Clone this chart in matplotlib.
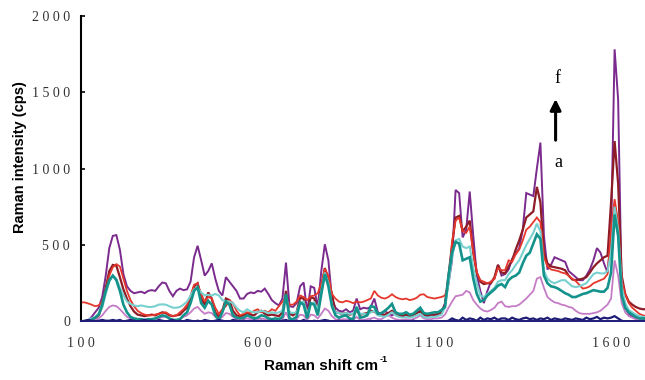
import matplotlib
matplotlib.use("Agg")
import matplotlib.pyplot as plt
import numpy as np

# Raman shift grid (cm-1), 10 cm-1 steps
shift = np.arange(100, 1701, 10)

# spectra (cps), order a -> f
spec_navy = [0, 5, 10, 5, 0, 5, 10, 5, 5, 10,
             5, 10, 0, 5, 10, 5, 0, 5, 10, 5,
             5, 0, 10, 5, 0, 5, 10, 0, 5, 0,
             10, 5, 0, 5, 0, 10, 5, 0, 5, 10,
             5, 0, 0, 10, 5, 0, 5, 0, 0, 5,
             0, 5, 0, 0, 5, 0, 0, 5, 10, 0,
             0, 5, 0, 10, 0, 0, 5, 0, 5, 10,
             5, 0, 0, 5, 0, 0, 5, 0, 0, 0,
             0, 0, 5, 0, 0, 0, 0, 5, 0, 0,
             0, 0, 0, 0, 5, 0, 0, 0, 0, 0,
             0, 0, 0, 0, 5, 20, 10, 5, 25, 10,
             20, 15, 5, 25, 10, 20, 15, 25, 10, 20,
             20, 10, 25, 15, 10, 20, 25, 15, 20, 10,
             20, 15, 25, 10, 20, 15, 10, 20, 15, 10,
             20, 15, 10, 25, 15, 20, 30, 15, 25, 20,
             25, 35, 20, 5, 0, 0, 0, 0, 0, 0,
             0]

spec_pink = [0, 0, 0, 5, 10, 20, 40, 70, 95, 105,
             100, 80, 55, 30, 20, 15, 10, 10, 10, 10,
             10, 15, 20, 30, 30, 20, 10, 10, 15, 30,
             40, 60, 85, 95, 70, 50, 60, 55, 30, 15,
             30, 55, 50, 30, 15, 10, 15, 20, 15, 10,
             15, 20, 15, 10, 10, 10, 10, 15, 60, 10,
             10, 15, 45, 40, 10, 45, 40, 20, 50, 85,
             70, 35, 15, 10, 15, 15, 10, 10, 30, 10,
             10, 15, 20, 25, 15, 15, 30, 40, 25, 15,
             10, 10, 15, 10, 15, 25, 40, 20, 15, 15,
             20, 20, 25, 45, 90, 130, 165, 170, 175, 200,
             190, 140, 110, 85, 70, 65, 75, 90, 120, 130,
             100, 95, 100, 100, 110, 130, 150, 175, 200, 280,
             290, 220, 160, 140, 125, 120, 110, 105, 95, 90,
             70, 55, 50, 50, 50, 55, 60, 70, 90, 110,
             150, 400, 300, 120, 60, 35, 25, 15, 10, 8,
             5]

spec_red = [125, 125, 118, 110, 100, 105, 130, 200, 300, 355,
            375, 360, 280, 200, 140, 100, 70, 55, 45, 40,
            40, 45, 50, 55, 60, 45, 35, 40, 60, 80,
            110, 170, 240, 250, 180, 130, 160, 150, 90, 50,
            80, 100, 140, 120, 70, 40, 50, 60, 55, 70,
            80, 60, 70, 60, 80, 70, 100, 130, 150, 110,
            110, 130, 170, 160, 140, 165, 170, 185, 250, 345,
            300, 180, 150, 130, 125, 135, 130, 120, 130, 125,
            130, 140, 150, 200, 170, 155, 150, 160, 178, 160,
            150, 145, 150, 140, 145, 155, 175, 178, 160, 155,
            150, 155, 160, 170, 250, 520, 660, 680, 590, 580,
            620, 450, 320, 270, 260, 250, 260, 280, 350, 335,
            335, 400, 390, 440, 470, 530, 600, 620, 650, 680,
            650, 420, 360, 340, 335, 330, 320, 315, 300, 280,
            265, 240, 215, 220, 230, 250, 260, 270, 280, 310,
            600, 800, 650, 270, 180, 120, 90, 70, 50, 40,
            35]

spec_cyan = [0, 0, 10, 20, 30, 50, 90, 180, 260, 300,
             280, 220, 170, 130, 115, 105, 100, 105, 100, 95,
             95, 100, 110, 112, 110, 100, 90, 90, 95, 110,
             130, 170, 210, 220, 190, 170, 175, 170, 180, 170,
             140, 130, 130, 120, 90, 70, 60, 80, 65, 60,
             60, 70, 65, 55, 60, 55, 60, 70, 170, 60,
             55, 60, 120, 130, 55, 110, 125, 80, 200, 320,
             250, 110, 60, 55, 50, 55, 50, 50, 90, 50,
             50, 45, 60, 70, 40, 35, 30, 45, 60, 40,
             30, 25, 30, 25, 30, 40, 50, 30, 25, 30,
             30, 35, 45, 90, 250, 420, 530, 540, 490, 480,
             490, 350, 250, 170, 160, 180, 200, 220, 260, 270,
             270, 310, 335, 370, 400, 450, 500, 540, 580, 640,
             590, 330, 280, 260, 250, 260, 270, 270, 250, 230,
             225, 230, 240, 250, 280, 310, 320, 315, 314, 330,
             450, 750, 600, 230, 120, 75, 60, 45, 35, 30,
             30]

spec_teal = [0, 0, 5, 10, 25, 45, 110, 200, 270, 300,
             270, 200, 110, 60, 30, 20, 15, 15, 10, 15,
             15, 20, 30, 40, 35, 20, 10, 10, 15, 40,
             60, 120, 200, 225, 120, 90, 135, 110, 40, 10,
             60, 130, 110, 40, 25, 20, 25, 40, 30, 20,
             25, 40, 35, 20, 15, 20, 15, 30, 180, 20,
             15, 30, 125, 110, 20, 120, 110, 40, 180, 310,
             230, 100, 40, 25, 35, 40, 20, 15, 95, 25,
             30, 40, 100, 95, 50, 55, 70, 90, 115, 60,
             50, 50, 60, 45, 50, 70, 90, 55, 50, 55,
             60, 60, 75, 95, 300, 450, 520, 510, 400, 410,
             420, 280, 180, 130, 140, 170, 190, 210, 235, 245,
             225, 270, 290, 300, 320, 380, 430, 450, 510, 570,
             540, 300, 250, 230, 225, 215, 200, 185, 175, 160,
             160, 170, 180, 185, 195, 205, 200, 195, 195, 220,
             320, 700, 560, 170, 90, 60, 45, 30, 20, 20,
             20]

spec_maroon = [0, 0, 5, 10, 20, 40, 100, 220, 330, 370,
               365, 290, 210, 150, 100, 65, 45, 40, 35, 40,
               45, 40, 50, 60, 55, 40, 35, 40, 45, 70,
               90, 150, 230, 250, 150, 110, 190, 150, 60, 30,
               70, 150, 140, 70, 40, 35, 40, 55, 45, 40,
               60, 70, 50, 40, 45, 40, 35, 60, 200, 50,
               40, 60, 155, 150, 45, 160, 150, 70, 220, 350,
               260, 180, 60, 55, 50, 55, 45, 50, 70, 45,
               50, 55, 70, 65, 45, 40, 45, 55, 70, 45,
               40, 35, 45, 35, 40, 55, 65, 45, 40, 45,
               45, 50, 60, 110, 300, 500, 680, 690, 590, 620,
               660, 450, 320, 260, 245, 250, 250, 290, 370, 320,
               315, 360, 400, 470, 530, 600, 680, 700, 720, 880,
               780, 450, 380, 360, 355, 350, 345, 335, 300, 275,
               270, 275, 280, 290, 320, 355, 380, 400, 420, 430,
               780, 1180, 900, 300, 180, 130, 110, 95, 85, 80,
               80]

spec_purple = [0, 0, 5, 30, 60, 90, 160, 300, 480, 560,
               565, 470, 310, 230, 200, 185, 190, 195, 185, 200,
               205, 200, 230, 255, 250, 200, 165, 200, 215, 205,
               210, 260, 420, 495, 400, 300, 330, 380, 280, 200,
               170, 290, 260, 230, 200, 150, 150, 180, 190, 185,
               200, 195, 215, 180, 140, 120, 105, 150, 385, 100,
               95, 120, 230, 255, 60, 230, 220, 90, 330, 505,
               400, 150, 90, 70, 65, 80, 60, 70, 150, 80,
               90, 85, 95, 150, 60, 45, 70, 50, 40, 55,
               40, 30, 35, 30, 40, 60, 70, 40, 30, 40,
               40, 45, 60, 120, 250, 400, 860, 840, 550, 600,
               850, 560, 300, 200, 120, 200, 260, 280, 370, 300,
               310, 340, 410, 440, 480, 600, 840, 830, 820, 1000,
               1170, 560, 340, 370, 420, 410, 400, 390, 330, 310,
               290, 270, 270, 300, 340, 400, 480, 450, 380, 320,
               560, 1780, 1450, 190, 90, 50, 30, 20, 15, 10,
               10]

y_ticks = [0, 500, 1000, 1500, 2000]
y_tick_labels = ["0", "5 0 0", "1 0 0 0", "1 5 0 0", "2 0 0 0"]
x_ticks = [100, 600, 1100, 1600]
x_tick_labels = ["1 0 0", "6 0 0", "1 1 0 0", "1 6 0 0"]

fig = plt.figure(figsize=(6.45, 3.80), dpi=100)
ax = fig.add_axes([0.1256, 0.154, 0.8744, 0.8047])

series = [
    (spec_purple, "#7b2a8e", 1.4),
    (spec_maroon, "#8e1c26", 1.6),
    (spec_red, "#e5372b", 1.3),
    (spec_pink, "#c57cc6", 1.3),
    (spec_cyan, "#78d0cf", 1.5),
    (spec_teal, "#13938b", 1.9),
    (spec_navy, "#1d1d78", 1.6),
]
for vals, col, lw in series:
    ax.plot(shift, vals, color=col, lw=lw, solid_joinstyle="miter")

ax.set_xlim(100, 1696)
ax.set_ylim(0, 2000)
ax.set_yticks(y_ticks)
ax.set_yticklabels(y_tick_labels)
ax.set_xticks(x_ticks)
ax.set_xticklabels(x_tick_labels)

serif = ["Liberation Serif", "DejaVu Serif"]
for lab in ax.get_yticklabels() + ax.get_xticklabels():
    lab.set_family(serif)
    lab.set_fontsize(10)
    lab.set_color("#333333")

ax.tick_params(axis="y", direction="in", length=3, width=1.2, pad=8)
ax.tick_params(axis="x", length=0, pad=11)

for s in ["top", "right"]:
    ax.spines[s].set_visible(False)
ax.spines["left"].set_linewidth(1.5)
ax.spines["left"].set_color("black")
ax.spines["bottom"].set_linewidth(1.4)
ax.spines["bottom"].set_color("#1d1d78")

fig.text(20 / 645, 0.587, "Raman intensity (cps)", rotation=90,
         ha="center", va="center", fontsize=10.5, fontweight="bold",
         family="Liberation Sans")
xl = fig.text(264 / 645, 1 - 366 / 380, "Raman shift cm",
              ha="left", va="center", fontsize=11, fontweight="bold",
              family="Liberation Sans")
fig.canvas.draw()
bb = xl.get_window_extent()
fig.text((bb.x1 + 1) / 645, 1 - 359 / 380, "-1", ha="left", va="center",
         fontsize=6.5, fontweight="bold", family="Liberation Sans")

ax.annotate("", xy=(1443, 1455), xytext=(1443, 1186),
            arrowprops=dict(arrowstyle="-|>", color="black", lw=2.2,
                            mutation_scale=16, shrinkA=0, shrinkB=0))
ax.text(1447, 1592, "f", ha="center", va="center", fontsize=13, family=serif)
ax.text(1450, 1042, "a", ha="center", va="center", fontsize=13, family=serif)

fig.savefig("out.png", dpi=100)
